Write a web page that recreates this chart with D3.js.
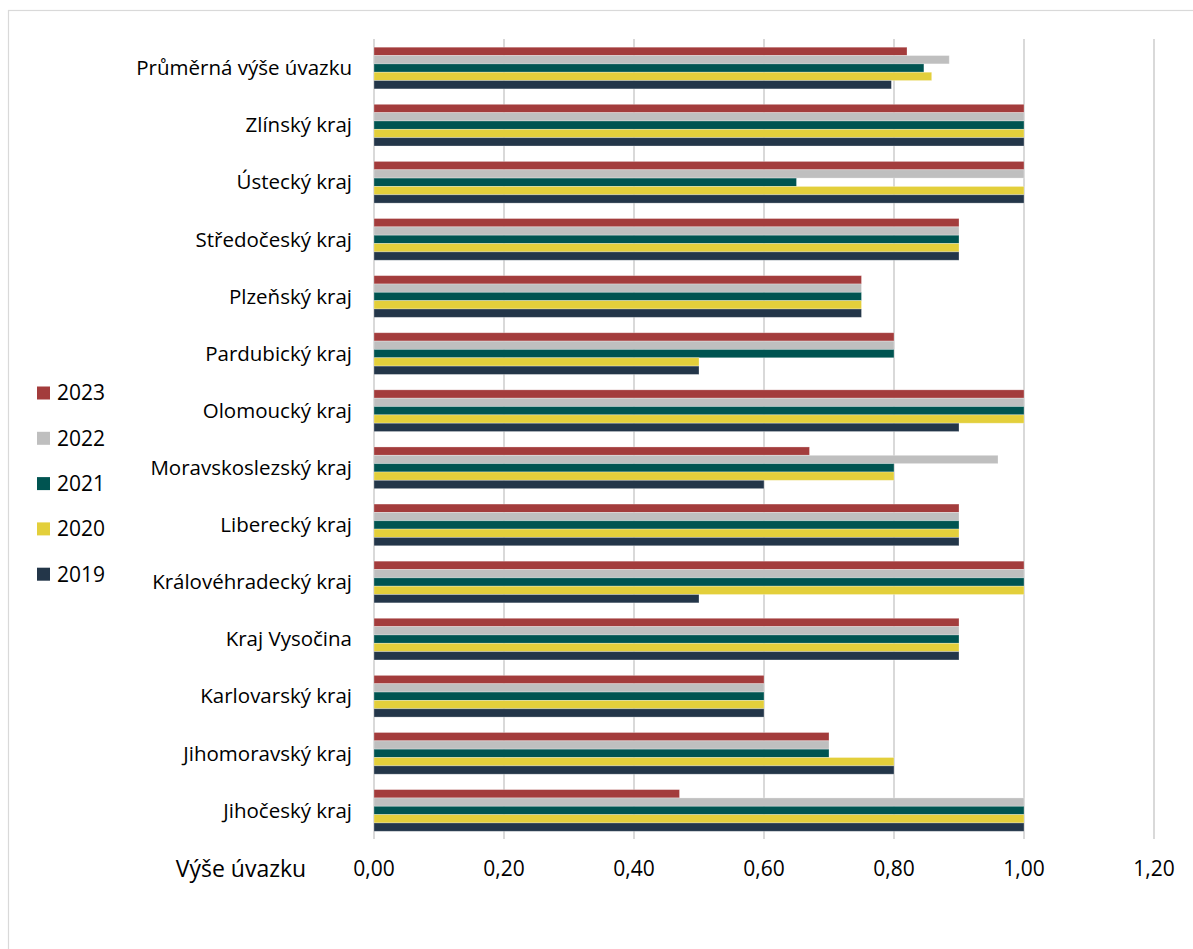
<!DOCTYPE html>
<html><head><meta charset="utf-8">
<script src="https://cdn.jsdelivr.net/npm/d3@7"></script>
<style>body{margin:0;background:#fff}</style>
</head><body>
<script>
const categories = ["Průměrná výše úvazku","Zlínský kraj","Ústecký kraj","Středočeský kraj","Plzeňský kraj","Pardubický kraj","Olomoucký kraj","Moravskoslezský kraj","Liberecký kraj","Královéhradecký kraj","Kraj Vysočina","Karlovarský kraj","Jihomoravský kraj","Jihočeský kraj"];
const years = ["2023","2022","2021","2020","2019"];
const v2023 = [0.82,1,1,0.9,0.75,0.8,1,0.67,0.9,1,0.9,0.6,0.7,0.47];
const v2022 = [0.885,1,1,0.9,0.75,0.8,1,0.96,0.9,1,0.9,0.6,0.7,1];
const v2021 = [0.846,1,0.65,0.9,0.75,0.8,1,0.8,0.9,1,0.9,0.6,0.7,1];
const v2020 = [0.858,1,1,0.9,0.75,0.5,1,0.8,0.9,1,0.9,0.6,0.8,1];
const v2019 = [0.796,1,1,0.9,0.75,0.5,0.9,0.6,0.9,0.5,0.9,0.6,0.8,1];
const xTicks = [0,0.2,0.4,0.6,0.8,1.0,1.2];
const xTitle = "Výše úvazku";
const colors = ["#A33C3C","#BFBFBF","#005451","#E3CF3B","#233649"];
const seriesVals = [v2023,v2022,v2021,v2020,v2019];

const W=1193,H=949;
const svg=d3.select("body").append("svg").attr("width",W).attr("height",H);
const font="'Open Sans', sans-serif";
svg.append("rect").attr("x",8.5).attr("y",10.5).attr("width",W).attr("height",H).attr("fill","#fff").attr("stroke","#D9D9D9").attr("stroke-width",1.2);

const x=d3.scaleLinear().domain([0,1.2]).range([374,1154]);
const y=d3.scaleBand().domain(categories).range([39.5,839]).paddingInner(0.27).paddingOuter(0.135);
const ys=d3.scaleBand().domain(years).range([0,y.bandwidth()]);

svg.append("g").selectAll("line").data(xTicks).join("line")
 .attr("x1",d=>x(d)).attr("x2",d=>x(d)).attr("y1",39).attr("y2",839)
 .attr("stroke","#D9D9D9").attr("stroke-width",2);

const g=svg.append("g");
years.forEach((yr,i)=>{
  g.append("g").selectAll("rect").data(categories).join("rect")
   .attr("x",x(0)).attr("y",(c)=>y(c)+ys(yr)).attr("height",ys.bandwidth())
   .attr("width",(c,j)=>x(seriesVals[i][j])-x(0))
   .attr("fill",colors[i]).attr("stroke","rgba(255,255,255,0.35)").attr("stroke-width",0.8);
});

svg.append("g").selectAll("text").data(categories).join("text")
 .attr("x",352).attr("y",c=>y(c)+y.bandwidth()/2).attr("dy","0.35em")
 .attr("text-anchor","end").attr("font-family",font).attr("font-size",20.5).attr("fill","#000").text(d=>d);

const fmt=d=>d3.format(".2f")(d).replace(".",",");
svg.append("g").selectAll("text").data(xTicks).join("text")
 .attr("x",d=>x(d)).attr("y",869).attr("dy","0.35em").attr("text-anchor","middle")
 .attr("font-family",font).attr("font-size",21).attr("fill","#000").text(fmt);
svg.append("text").attr("x",241).attr("y",869).attr("dy","0.35em").attr("text-anchor","middle")
 .attr("font-family",font).attr("font-size",23).attr("fill","#000").text(xTitle);

const lg=svg.append("g");
years.forEach((yr,i)=>{
  const cy=393+i*45.3;
  lg.append("rect").attr("x",37).attr("y",cy-6.5).attr("width",13).attr("height",13).attr("fill",colors[i]);
  lg.append("text").attr("x",57).attr("y",cy).attr("dy","0.35em").attr("font-family",font).attr("font-size",21).attr("fill","#000").text(yr);
});
</script>
</body></html>
